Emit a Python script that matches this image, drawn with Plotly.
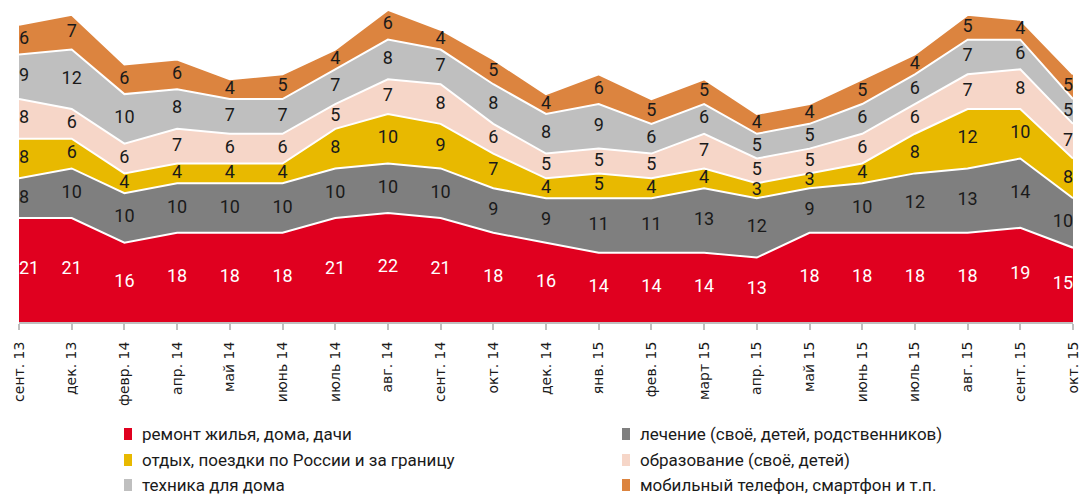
import plotly.graph_objects as go
import numpy as np

categories = ["сент. 13", "дек. 13", "февр. 14", "апр. 14", "май 14", "июнь 14", "июль 14",
              "авг. 14", "сент. 14", "окт. 14", "дек. 14", "янв. 15", "фев. 15", "март 15",
              "апр. 15", "май 15", "июнь 15", "июль 15", "авг. 15", "сент. 15", "окт. 15"]

remont = [21, 21, 16, 18, 18, 18, 21, 22, 21, 18, 16, 14, 14, 14, 13, 18, 18, 18, 18, 19, 15]
lechenie = [8, 10, 10, 10, 10, 10, 10, 10, 10, 9, 9, 11, 11, 13, 12, 9, 10, 12, 13, 14, 10]
otdykh = [8, 6, 4, 4, 4, 4, 8, 10, 9, 7, 4, 5, 4, 4, 3, 3, 4, 8, 12, 10, 8]
obrazovanie = [8, 6, 6, 7, 6, 6, 5, 7, 8, 6, 5, 5, 5, 7, 5, 5, 6, 6, 7, 8, 7]
tekhnika = [9, 12, 10, 8, 7, 7, 7, 8, 7, 8, 8, 9, 6, 6, 5, 5, 6, 6, 7, 6, 5]
mobilny = [6, 7, 6, 6, 4, 5, 4, 6, 4, 5, 4, 6, 5, 5, 4, 4, 5, 4, 5, 4, 5]

series_names = ["ремонт жилья, дома, дачи", "лечение (своё, детей, родственников)",
                "отдых, поездки по России и за границу", "образование (своё, детей)",
                "техника для дома", "мобильный телефон, смартфон и т.п."]
series_values = [remont, lechenie, otdykh, obrazovanie, tekhnika, mobilny]
series_colors = ["#E0001F", "#7F7F7F", "#E8B900", "#F6D6C8", "#BFBFBF", "#DC843F"]
label_colors = ["#FFFFFF", "#1A1A1A", "#1A1A1A", "#1A1A1A", "#1A1A1A", "#1A1A1A"]

LABEL_FONT = "Roboto, sans-serif"

W, H = 1087, 495
ML, MR, MT, MB = 19, 14, 0, 173
PW, PH = W - ML - MR, H - MT - MB

fig = go.Figure()
x = list(range(len(categories)))

for name, vals, col in zip(series_names, series_values, series_colors):
    fig.add_trace(go.Scatter(
        x=x, y=vals, stackgroup="one", mode="lines",
        line=dict(color="white", width=2), fillcolor=col,
        name=name, showlegend=False, hoverinfo="skip"))

# data labels at band centres
cum = np.zeros(len(categories))
positions = ["middle right"] + ["middle center"] * (len(categories) - 2) + ["middle left"]
for vals, lc in zip(series_values, label_colors):
    v = np.array(vals, dtype=float)
    mid = cum + v / 2
    cum = cum + v
    fig.add_trace(go.Scatter(
        x=x, y=mid, mode="text", text=[str(a) for a in vals],
        textposition=positions, textfont=dict(family=LABEL_FONT, size=18, color=lc),
        showlegend=False, hoverinfo="skip", cliponaxis=False))

# legend drawn as two columns (pixel positions converted to paper coords)
def px2x(px):
    return (px - ML) / PW

def py2y(py):
    return (H - MB - py) / PH

col_x = [128, 626]
row_y = [434, 460, 485]
shapes = []
annotations = []
for i, (name, col) in enumerate(zip(series_names, series_colors)):
    cx = col_x[i % 2]
    cy = row_y[i // 2]
    shapes.append(dict(type="rect", xref="paper", yref="paper",
                       x0=px2x(cx - 4), x1=px2x(cx + 4), y0=py2y(cy + 6), y1=py2y(cy - 6),
                       fillcolor=col, line=dict(width=0)))
    annotations.append(dict(xref="paper", yref="paper", x=px2x(cx + 12), y=py2y(cy),
                            xanchor="left", yanchor="middle", showarrow=False, text=name,
                            font=dict(family="Roboto, sans-serif", size=17, color="#1A1A1A")))

fig.update_layout(
    width=W, height=H,
    margin=dict(l=ML, r=MR, t=MT, b=MB, autoexpand=False),
    plot_bgcolor="white", paper_bgcolor="white",
    showlegend=False, hovermode=False,
    shapes=shapes, annotations=annotations,
    xaxis=dict(range=[0, len(categories) - 1], tickmode="array", tickvals=x,
               ticktext=categories, tickangle=-90, showgrid=False, zeroline=False,
               showline=True, linecolor="#BFBFBF", linewidth=2,
               ticks="outside", ticklen=6, tickcolor="#BFBFBF", tickwidth=2,
               ticklabelstandoff=6, automargin=False,
               tickfont=dict(family="DejaVu Sans", size=14, color="#1A1A1A")),
    yaxis=dict(range=[0, 65], visible=False, showgrid=False, zeroline=False),
)

fig.write_html("out.html", config={"displayModeBar": False, "staticPlot": True},
               post_script="document.body.style.margin='0px';document.body.style.overflow='hidden';")
